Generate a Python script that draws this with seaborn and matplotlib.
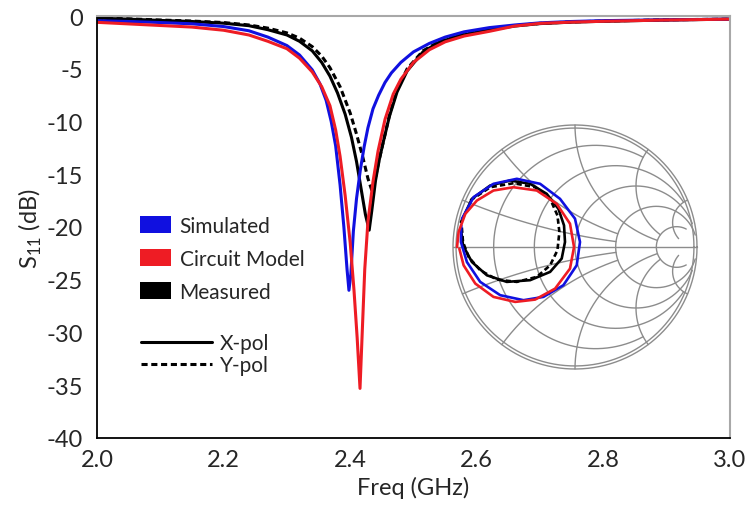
import numpy as np
import pandas as pd
import matplotlib
matplotlib.use('Agg')
import matplotlib.pyplot as plt
import seaborn as sns
from matplotlib.patches import Patch
from matplotlib.lines import Line2D
from matplotlib.ticker import MultipleLocator

# S11 magnitude traces (freq in GHz, S11 in dB)
freq_sim = [2.00, 2.05, 2.10, 2.15, 2.20, 2.24, 2.27, 2.30, 2.32, 2.34, 2.352, 2.362, 2.370,
            2.377, 2.384, 2.390, 2.395, 2.398, 2.401, 2.405, 2.410, 2.416, 2.422, 2.428, 2.436,
            2.445, 2.455, 2.465, 2.480, 2.500, 2.525, 2.550, 2.580, 2.620, 2.660, 2.70, 2.75,
            2.80, 2.90, 3.00]
s11_sim = [-0.45, -0.52, -0.62, -0.74, -1.0, -1.4, -2.0, -2.8, -3.7, -5.1, -6.4, -8.0, -10.0,
           -12.3, -16.0, -20.0, -24.0, -26.0, -24.5, -20.4, -17.3, -14.6, -12.4, -10.6, -8.8,
           -7.5, -6.3, -5.4, -4.4, -3.4, -2.6, -2.0, -1.5, -1.1, -0.85, -0.65, -0.52,
           -0.44, -0.36, -0.3]

freq_cir = [2.00, 2.05, 2.10, 2.15, 2.20, 2.24, 2.27, 2.30, 2.32, 2.34, 2.355, 2.368, 2.377,
            2.384, 2.392, 2.400, 2.406, 2.411, 2.4155, 2.419, 2.423, 2.428, 2.436, 2.444, 2.455,
            2.468, 2.480, 2.500, 2.525, 2.550, 2.580, 2.620, 2.660, 2.70, 2.75, 2.80, 2.90, 3.00]
s11_cir = [-0.6, -0.75, -0.9, -1.05, -1.35, -1.8, -2.4, -3.1, -4.0, -5.3, -6.7, -8.5, -10.8,
           -13.3, -17.0, -21.5, -26.0, -30.5, -35.3, -30.0, -24.0, -19.5, -15.7, -12.8, -9.8,
           -7.4, -6.0, -4.4, -3.2, -2.45, -1.9, -1.45, -0.95, -0.7, -0.58, -0.5, -0.38, -0.3]

freq_meas_x = [2.00, 2.05, 2.10, 2.15, 2.20, 2.24, 2.27, 2.30, 2.32, 2.34, 2.355, 2.368, 2.380,
               2.392, 2.402, 2.410, 2.417, 2.424, 2.430, 2.434, 2.440, 2.446, 2.452, 2.462,
               2.474, 2.490, 2.515, 2.540, 2.570, 2.620, 2.660, 2.70, 2.75, 2.80, 2.90, 3.00]
s11_meas_x = [-0.2, -0.3, -0.42, -0.52, -0.68, -0.92, -1.3, -1.8, -2.4, -3.3, -4.4, -5.7, -7.3,
              -9.3, -11.5, -13.8, -16.3, -18.8, -20.3, -18.5, -15.6, -13.6, -12.0, -9.5,
              -7.2, -5.2, -3.4, -2.5, -1.9, -1.3, -0.95, -0.72, -0.58, -0.5, -0.38, -0.3]

freq_meas_y = [2.00, 2.05, 2.10, 2.15, 2.20, 2.24, 2.27, 2.30, 2.32, 2.34, 2.355, 2.368, 2.384,
               2.400, 2.410, 2.420, 2.428, 2.434, 2.439, 2.445, 2.452, 2.462, 2.474, 2.490,
               2.515, 2.540, 2.570, 2.620, 2.660, 2.70, 2.75, 2.80, 2.90, 3.00]
s11_meas_y = [-0.18, -0.27, -0.38, -0.48, -0.62, -0.85, -1.15, -1.6, -2.1, -2.9, -3.8, -4.9, -6.7,
              -9.2, -11.2, -13.4, -15.4, -16.5, -15.6, -13.8, -12.0, -9.4, -7.0, -5.0,
              -3.3, -2.45, -1.85, -1.25, -0.92, -0.7, -0.56, -0.48, -0.36, -0.3]

# reflection coefficient loops on the Smith chart (real, imag)
smith_sim_re = [-0.926, -0.831, -0.668, -0.477, -0.286, -0.123, 0.000, 0.041, 0.014, -0.095,
                -0.259, -0.422, -0.613, -0.777, -0.886, -0.935, -0.932]
smith_sim_im = [0.232, 0.409, 0.518, 0.559, 0.518, 0.395, 0.232, 0.041, -0.150, -0.313,
                -0.409, -0.436, -0.395, -0.286, -0.123, 0.041, 0.177]
smith_cir_re = [-0.967, -0.954, -0.899, -0.804, -0.668, -0.504, -0.313, -0.150, -0.041, -0.008,
                -0.041, -0.163, -0.327, -0.490, -0.668, -0.817, -0.913, -0.948]
smith_cir_im = [0.000, 0.123, 0.272, 0.381, 0.463, 0.490, 0.463, 0.354, 0.191, 0.000,
                -0.177, -0.341, -0.431, -0.450, -0.409, -0.300, -0.150, -0.014]
smith_mx_re = [-0.935, -0.845, -0.695, -0.531, -0.368, -0.232, -0.136, -0.090, -0.082, -0.109,
               -0.204, -0.368, -0.559, -0.722, -0.845, -0.918, -0.935]
smith_mx_im = [0.204, 0.395, 0.504, 0.545, 0.518, 0.436, 0.313, 0.177, 0.041, -0.095,
               -0.204, -0.272, -0.286, -0.232, -0.123, 0.014, 0.150]
smith_my_re = [-0.858, -0.695, -0.504, -0.327, -0.204, -0.144, -0.128, -0.144, -0.204, -0.313,
               -0.477, -0.640, -0.777, -0.872, -0.918, -0.929]
smith_my_im = [0.381, 0.490, 0.523, 0.490, 0.395, 0.259, 0.123, -0.027, -0.150, -0.245,
               -0.286, -0.267, -0.191, -0.082, 0.041, 0.177]

blue = '#1010e0'
red = '#ee1c24'
dash = (0, (2.0, 1.2))

sns.set_style('white')
plt.rcParams['font.family'] = ['Lato', 'DejaVu Sans']
plt.rcParams['axes.unicode_minus'] = False
plt.rcParams['mathtext.fontset'] = 'custom'
plt.rcParams['mathtext.rm'] = 'Lato'

W, H = 750, 506
fig = plt.figure(figsize=(W / 100, H / 100), dpi=100)
ax = fig.add_axes([97 / W, 1 - 439 / H, (730 - 97) / W, (439 - 17) / H])

traces = [(freq_meas_y, s11_meas_y, 'black', dash),
          (freq_meas_x, s11_meas_x, 'black', '-'),
          (freq_sim, s11_sim, blue, '-'),
          (freq_cir, s11_cir, red, '-')]
for f, s, c, ls in traces:
    sns.lineplot(x=f, y=s, color=c, lw=2.2, linestyle=ls, sort=False, estimator=None, ax=ax)

ax.set_xlim(2.0, 3.0)
ax.set_ylim(-40, 0)
ax.set_xticks(np.arange(2.0, 3.01, 0.2))
ax.set_xticklabels(['%.1f' % v for v in np.arange(2.0, 3.01, 0.2)])
ax.set_yticks(np.arange(-40, 1, 5))
ax.xaxis.set_minor_locator(MultipleLocator(0.1))
ax.yaxis.set_minor_locator(MultipleLocator(2.5))
ax.tick_params(which='both', direction='in', color='black', width=1.2, labelsize=17)
ax.tick_params(axis='x', which='major', length=14, pad=8)
ax.tick_params(axis='x', which='minor', length=7)
ax.tick_params(axis='y', which='major', length=13, pad=10)
ax.tick_params(axis='y', which='minor', length=7)
for side in ['left', 'bottom']:
    ax.spines[side].set_color('black')
    ax.spines[side].set_linewidth(1.3)
for side in ['top', 'right']:
    ax.spines[side].set_color('#a8a8a8')
    ax.spines[side].set_linewidth(1.5)
ax.set_xlabel('Freq (GHz)', fontsize=17, labelpad=4)
ax.set_ylabel('S$_{11}$ (dB)', fontsize=17, labelpad=2)

# legends
h1 = [Patch(facecolor=blue, edgecolor='none'),
      Patch(facecolor=red, edgecolor='none'),
      Patch(facecolor='black', edgecolor='none')]
leg1 = ax.legend(h1, ['Simulated', 'Circuit Model', 'Measured'], loc='upper left',
                 bbox_to_anchor=(140 / W, 1 - 217 / H), bbox_transform=fig.transFigure,
                 frameon=False, borderpad=0, borderaxespad=0, fontsize=15,
                 handlelength=1.5, handleheight=0.85, handletextpad=0.4, labelspacing=0.62)
ax.add_artist(leg1)
h2 = [Line2D([], [], color='black', lw=2.2),
      Line2D([], [], color='black', lw=2.2, linestyle=dash)]
ax.legend(h2, ['X-pol', 'Y-pol'], loc='upper left',
          bbox_to_anchor=(141 / W, 1 - 334 / H), bbox_transform=fig.transFigure,
          frameon=False, borderpad=0, borderaxespad=0, fontsize=15,
          handlelength=3.4, handletextpad=0.4, labelspacing=0.1)

# Smith chart inset
R = 122
cx, cy = 575, 248
half = 1.05 * R
sax = fig.add_axes([(cx - half) / W, 1 - (cy + half) / H, 2 * half / W, 2 * half / H])
sax.set_xlim(-1.05, 1.05)
sax.set_ylim(-1.05, 1.05)
sax.set_aspect('equal')
sax.axis('off')
grid_kw = dict(color='#8c8c8c', lw=1.0, zorder=1)
t = np.linspace(0, 2 * np.pi, 400)
for rr in [1.0, 0.975]:
    sax.plot(rr * np.cos(t), rr * np.sin(t), **grid_kw)
sax.plot([-1, 1], [0, 0], **grid_kw)
# resistance circles, each drawn up to a reactance limit
for r, xmax in [(0.2, 2.0), (0.5, 5.0), (1, 10.0), (2, 20.0), (5, 10.0)]:
    xs = np.linspace(-xmax, xmax, 600)
    g = (r + 1j * xs - 1) / (r + 1j * xs + 1)
    sax.plot(g.real, g.imag, **grid_kw)
# reactance arcs, each drawn up to a resistance limit
for x, rmax in [(0.2, 2.0), (0.5, 2.0), (1, 5.0), (2, 5.0), (5, 10.0)]:
    rs = np.concatenate([np.linspace(0, 1, 200), np.linspace(1, rmax, 300)])
    for sgn in [1, -1]:
        g = (rs + 1j * sgn * x - 1) / (rs + 1j * sgn * x + 1)
        sax.plot(g.real, g.imag, **grid_kw)

loops = [(smith_my_re, smith_my_im, 'black', dash),
         (smith_mx_re, smith_mx_im, 'black', '-'),
         (smith_sim_re, smith_sim_im, blue, '-'),
         (smith_cir_re, smith_cir_im, red, '-')]
for re_, im_, c, ls in loops:
    sns.lineplot(x=re_, y=im_, color=c, lw=1.9, linestyle=ls, sort=False, estimator=None, ax=sax)
sax.set_xlabel('')
sax.set_ylabel('')

fig.savefig('out.png', dpi=100)
